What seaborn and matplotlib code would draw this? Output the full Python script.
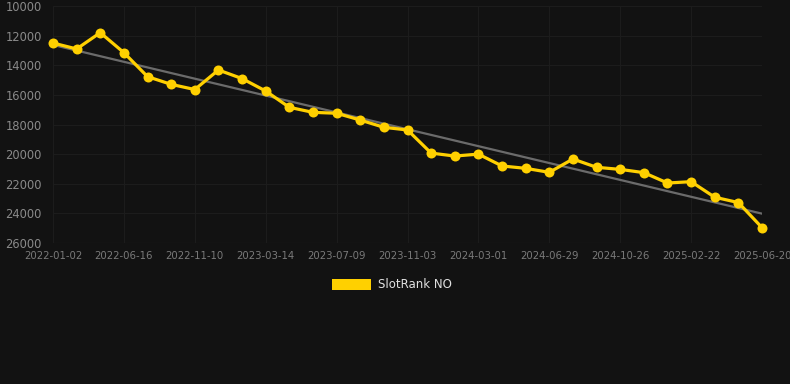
import numpy as np
import pandas as pd
import seaborn as sns
import matplotlib.pyplot as plt
from matplotlib.patches import Patch

# data (rank, lower is better -> inverted axis)
ranks = [12500, 12900, 11800, 13150, 14770, 15290, 15640, 14320, 14900, 15740,
         16840, 17180, 17240, 17700, 18190, 18370, 19930, 20130, 20000, 20800,
         20960, 21230, 20330, 20890, 21030, 21250, 21950, 21860, 22910, 23270,
         24960]
tick_labels = ['2022-01-02', '2022-06-16', '2022-11-10', '2023-03-14', '2023-07-09',
               '2023-11-03', '2024-03-01', '2024-06-29', '2024-10-26', '2025-02-22',
               '2025-06-20']
y_ticks = [10000, 12000, 14000, 16000, 18000, 20000, 22000, 24000, 26000]

df = pd.DataFrame({'idx': np.arange(len(ranks)), 'rank': ranks})

bg = '#121212'
yellow = '#FFD000'

sns.set_theme(style='dark')
plt.rcParams['font.family'] = ['DejaVu Sans']

fig = plt.figure(figsize=(7.9, 3.84), dpi=100, facecolor=bg)
ax = fig.add_axes([53 / 790, 1 - 243 / 384, (762 - 53) / 790, (243 - 6) / 384])
ax.set_facecolor(bg)

# trend line
sns.regplot(data=df, x='idx', y='rank', scatter=False, ci=None, ax=ax,
            line_kws={'color': '#6b6b6b', 'linewidth': 1.6, 'zorder': 2})

sns.lineplot(data=df, x='idx', y='rank', ax=ax, color=yellow, linewidth=2.3,
             marker='o', markersize=7.2, markeredgewidth=0, zorder=3, clip_on=False)

ax.set_xlim(0, len(ranks) - 1)
ax.set_ylim(26000, 10000)
ax.set_xticks(np.arange(0, len(ranks), 3))
ax.set_xticklabels(tick_labels)
ax.set_yticks(y_ticks)
ax.set_xlabel('')
ax.set_ylabel('')

ax.grid(True, color='#1c1c1c', linewidth=0.8)
for s in ax.spines.values():
    s.set_visible(False)
ax.axhline(26000, color='#2a2a2a', linewidth=0.8, zorder=1)
ax.tick_params(axis='y', colors='#8a8a8a', labelsize=8.3, length=0, pad=8)
ax.tick_params(axis='x', colors='#7a7a7a', labelsize=7.3, length=0, pad=6)

handles = [Patch(facecolor=yellow, edgecolor='none', label='SlotRank NO')]
fig.legend(handles=handles, loc='center', bbox_to_anchor=(392 / 790, 1 - 285 / 384),
           frameon=False, fontsize=8.5, labelcolor='#e0e0e0',
           handlelength=3.3, handleheight=1.1, handletextpad=0.6)

fig.savefig('out.png', dpi=100, facecolor=bg)
